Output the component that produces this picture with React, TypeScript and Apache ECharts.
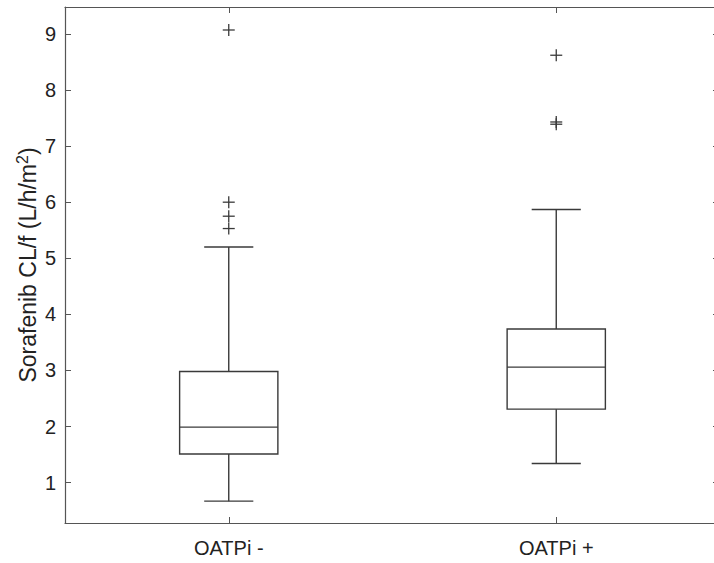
import React, { useEffect, useRef } from "react";
import * as echarts from "echarts";

const categories = ["OATPi -", "OATPi +"];
const lowerWhisker = [0.67, 1.34];
const q1 = [1.51, 2.31];
const median = [1.99, 3.06];
const q3 = [2.98, 3.74];
const upperWhisker = [5.2, 5.87];
const outliersMinus = [5.53, 5.75, 6.0, 9.07];
const outliersPlus = [7.39, 7.43, 8.62];
const yMin = 0.28;
const yMax = 9.48;

const FONT = "'Liberation Sans', Arial, Helvetica, sans-serif";
const LINE = "#3a3a3a";
const AXIS = "#555555";

export default function App() {
  const ref = useRef<HTMLDivElement>(null);
  useEffect(() => {
    if (!ref.current) return;
    const chart = echarts.init(ref.current, null, { renderer: "svg" });
    const boxData = categories.map((_, i) => [i, lowerWhisker[i], q1[i], median[i], q3[i], upperWhisker[i]]);
    const outlierData: number[][] = [];
    outliersMinus.forEach((v) => outlierData.push([0, v]));
    outliersPlus.forEach((v) => outlierData.push([1, v]));

    const option: any = {
      animation: false,
      backgroundColor: "#ffffff",
      grid: { left: 65, top: 7, width: 655, height: 516, containLabel: false },
      xAxis: [
        {
          type: "category",
          data: categories,
          boundaryGap: true,
          position: "bottom",
          axisLine: { show: true, lineStyle: { color: AXIS, width: 1.2 } },
          axisTick: { show: true, inside: true, alignWithLabel: true, length: 6, lineStyle: { color: AXIS } },
          axisLabel: { color: "#222", fontSize: 20, fontFamily: FONT, margin: 15 },
          splitLine: { show: false },
        },
        {
          type: "category",
          data: categories,
          boundaryGap: true,
          position: "top",
          axisLine: { show: true, lineStyle: { color: AXIS, width: 1.2 } },
          axisTick: { show: true, inside: true, alignWithLabel: true, length: 6, lineStyle: { color: AXIS } },
          axisLabel: { show: false },
          splitLine: { show: false },
        },
      ],
      yAxis: [
        {
          type: "value",
          min: yMin,
          max: yMax,
          splitNumber: 9,
          position: "left",
          name: "Sorafenib CL/f (L/h/m{sup|2})",
          nameLocation: "middle",
          nameGap: 23,
          nameMoveOverlap: false,
          nameTextStyle: {
            color: "#222",
            fontSize: 23,
            fontFamily: FONT,
            rich: {
              sup: { fontSize: 16, fontFamily: FONT, color: "#222", padding: [0, 0, 12, 0] },
            },
          },
          axisLine: { show: true, lineStyle: { color: AXIS, width: 1.2 } },
          axisTick: { show: true, inside: true, length: 6, lineStyle: { color: AXIS } },
          axisLabel: { color: "#222", fontSize: 20, fontFamily: FONT, margin: 9, showMinLabel: false, showMaxLabel: false },
          splitLine: { show: false },
        },
        {
          type: "value",
          min: yMin,
          max: yMax,
          splitNumber: 9,
          position: "right",
          axisLine: { show: true, lineStyle: { color: AXIS, width: 1.2 } },
          axisTick: { show: true, inside: true, length: 7, lineStyle: { color: AXIS } },
          axisLabel: { show: false },
          splitLine: { show: false },
        },
      ],
      series: [
        {
          type: "custom",
          xAxisIndex: 0,
          yAxisIndex: 0,
          data: boxData,
          renderItem: (params: any, api: any) => {
            const idx = api.value(0);
            const lo = api.coord([idx, api.value(1)]);
            const b1 = api.coord([idx, api.value(2)]);
            const md = api.coord([idx, api.value(3)]);
            const b3 = api.coord([idx, api.value(4)]);
            const hi = api.coord([idx, api.value(5)]);
            const bandW = api.size([1, 0])[0];
            const halfBox = bandW * 0.15;
            const halfCap = bandW * 0.075;
            const x = lo[0];
            const style = { stroke: LINE, lineWidth: 1.4, fill: null };
            return {
              type: "group",
              children: [
                { type: "line", shape: { x1: x, y1: lo[1], x2: x, y2: b1[1] }, style },
                { type: "line", shape: { x1: x, y1: b3[1], x2: x, y2: hi[1] }, style },
                { type: "line", shape: { x1: x - halfCap, y1: lo[1], x2: x + halfCap, y2: lo[1] }, style },
                { type: "line", shape: { x1: x - halfCap, y1: hi[1], x2: x + halfCap, y2: hi[1] }, style },
                {
                  type: "rect",
                  shape: { x: x - halfBox, y: b3[1], width: halfBox * 2, height: b1[1] - b3[1] },
                  style: { stroke: LINE, lineWidth: 1.4, fill: "none" },
                },
                { type: "line", shape: { x1: x - halfBox, y1: md[1], x2: x + halfBox, y2: md[1] }, style },
              ],
            };
          },
        },
        {
          type: "custom",
          xAxisIndex: 0,
          yAxisIndex: 0,
          data: outlierData,
          renderItem: (params: any, api: any) => {
            const p = api.coord([api.value(0), api.value(1)]);
            const h = 6;
            const style = { stroke: LINE, lineWidth: 1.3 };
            return {
              type: "group",
              children: [
                { type: "line", shape: { x1: p[0] - h, y1: p[1], x2: p[0] + h, y2: p[1] }, style },
                { type: "line", shape: { x1: p[0], y1: p[1] - h, x2: p[0], y2: p[1] + h }, style },
              ],
            };
          },
        },
      ],
    };
    chart.setOption(option);
    return () => chart.dispose();
  }, []);
  return (
    <div style={{ position: "fixed", left: 0, top: 0, width: 714, height: 563, overflow: "hidden", background: "#fff" }}>
      <div ref={ref} style={{ width: 726, height: 563 }} />
    </div>
  );
}
